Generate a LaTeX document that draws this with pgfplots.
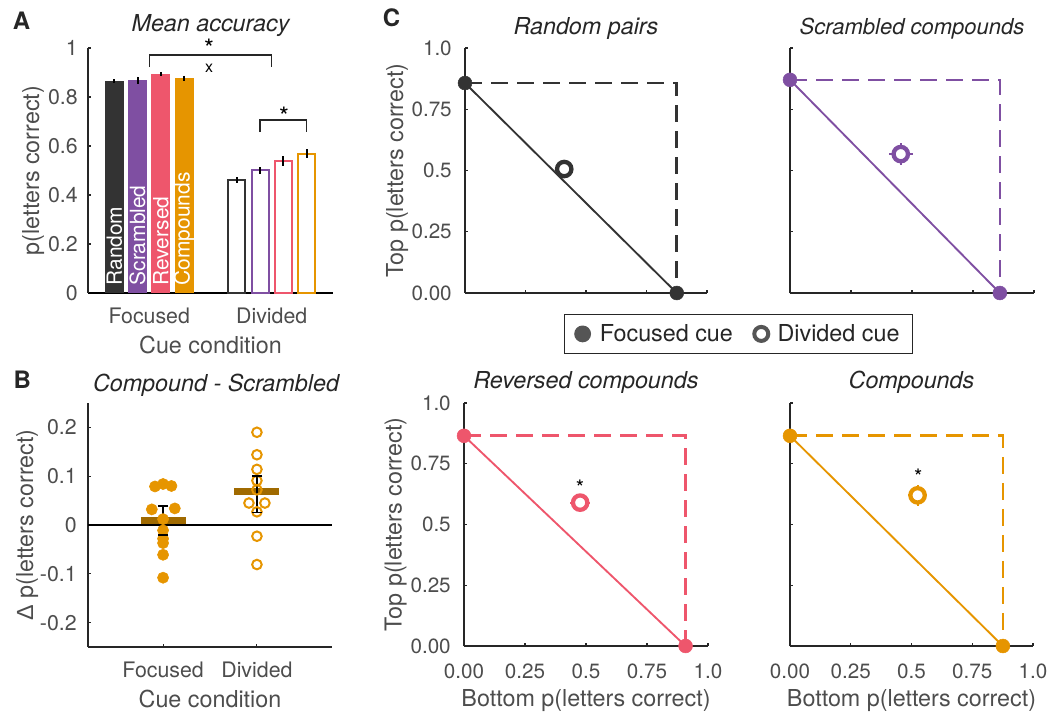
\documentclass[border=0pt]{standalone}
\usepackage{fontspec}
\setmainfont{TeX Gyre Heros}
\newfontfamily\lsans{Liberation Sans}
\usepackage{pgfplots}
\pgfplotsset{compat=1.18}

\definecolor{cdark}{HTML}{333333}
\definecolor{cpurp}{HTML}{7F4FA2}
\definecolor{cpink}{HTML}{EE566C}
\definecolor{corng}{HTML}{E69500}
\definecolor{cmean}{HTML}{A06A00}
\definecolor{caxis}{HTML}{262626}
\definecolor{ctick}{HTML}{4D4D4D}
\definecolor{cleg}{HTML}{555555}

\newcommand{\tickA}{\fontsize{16}{19}\selectfont}
\newcommand{\tickC}{\fontsize{15.5}{18}\selectfont}
\newcommand{\labf}{\fontsize{17.5}{21}\selectfont}
\newcommand{\titf}{\fontsize{17.5}{21}\selectfont\itshape}
\newcommand{\barf}{\fontsize{15.7}{18}\selectfont}
\newcommand{\starA}{\fontsize{19}{22}\selectfont}
\newcommand{\starC}{\fontsize{16}{19}\selectfont}
\newcommand{\letf}{\fontsize{18}{21}\selectfont\bfseries}

\pgfplotsset{
  mat/.style={
    anchor=south west, scale only axis, clip=false,
    axis lines*=left,
    axis line style={line width=1pt, caxis},
    tick style={line width=0.8pt, caxis},
    tick align=inside, major tick length=2.5pt,
    /pgf/number format/assume math mode=true,
    tick label style={color=ctick},
    xticklabel style={anchor=base},
    yticklabel style={anchor=east, inner sep=0pt},
    label style={font=\labf, color=ctick},
    xlabel style={at={(axis description cs:0.5,0)}, anchor=base, yshift=-45.5pt},
    title style={font=\titf, color=caxis, at={(0.5,1)}, anchor=base},
  },
  cpan/.style={
    mat, xmin=0, xmax=1, ymin=0, ymax=1,
    xtick={0,0.25,0.5,0.75,1}, ytick={0,0.25,0.5,0.75,1},
    xticklabels={0.00,0.25,0.5,0.75,1.0},
    yticklabels={0.00,0.25,0.5,0.75,1.0},
    tick label style={font=\tickC},
    xticklabel style={yshift=-24pt},
    yticklabel style={xshift=-9.75pt},
    ylabel style={at={(axis description cs:-0.256,0.5)}, anchor=base},
  },
  dashln/.style={line width=2pt, dash pattern=on 12.5pt off 7pt},
  diag/.style={line width=1.4pt},
  foc/.style={only marks, mark=*, mark size=5.2pt},
  divm/.style={only marks, mark=*, mark size=5.4pt, mark options={fill=white, line width=3.2pt}},
  derr/.style={draw=none, mark=none, error bars/x dir=both, error bars/x explicit,
    error bars/y dir=both, error bars/y explicit,
    error bars/error mark=none, error bars/error bar style={draw=#1, line width=1.6pt}},
  fbar/.style={ybar, bar width=0.155, bar shift=0pt, draw=none,
    error bars/y dir=both, error bars/y explicit, error bars/error mark=none,
    error bars/error bar style={draw=black, line width=1.5pt}},
  dbar/.style={ybar, bar width=0.14, bar shift=0pt, fill=white, line width=1.5pt,
    error bars/y dir=both, error bars/y explicit, error bars/error mark=none,
    error bars/error bar style={draw=black, line width=1.5pt}},
}

\begin{document}
\begin{tikzpicture}
\useasboundingbox (0,0) rectangle (789pt,536.25pt);

% panel letters
\node[font=\letf, anchor=base west, inner sep=0pt, caxis] at (9.5pt,513.75pt) {A};
\node[font=\letf, anchor=base west, inner sep=0pt, caxis] at (10pt,245.25pt) {B};
\node[font=\letf, anchor=base west, inner sep=0pt, caxis] at (287pt,516.2pt) {C};

% ---------- A: mean accuracy
\begin{axis}[mat, at={(66pt,316.5pt)}, width=183.75pt, height=183.75pt,
  xmin=0.5, xmax=2.5, ymin=0, ymax=1,
  xtick={1,2}, xticklabels={Focused,Divided},
  ytick={0,0.2,0.4,0.6,0.8,1},
  x axis line style={line width=2.2pt, black},
  xtick style={draw=none},
  tick label style={font=\tickA},
  xticklabel style={yshift=-22.9pt},
  yticklabel style={xshift=-7.5pt},
  xlabel={Cue condition}, ylabel={p(letters correct)},
  ylabel style={at={(axis description cs:-0.2,0.5)}, anchor=base},
  title={Mean accuracy}, title style={yshift=6.2pt},
]
\addplot[fbar, fill=cdark] coordinates {(0.715,0.865) +- (0,0.008)};
\addplot[fbar, fill=cpurp] coordinates {(0.905,0.868) +- (0,0.015)};
\addplot[fbar, fill=cpink] coordinates {(1.095,0.893) +- (0,0.007)};
\addplot[fbar, fill=corng] coordinates {(1.285,0.877) +- (0,0.010)};
\addplot[dbar, draw=cdark] coordinates {(1.715,0.463) +- (0,0.012)};
\addplot[dbar, draw=cpurp] coordinates {(1.905,0.500) +- (0,0.016)};
\addplot[dbar, draw=cpink] coordinates {(2.095,0.540) +- (0,0.020)};
\addplot[dbar, draw=corng] coordinates {(2.285,0.569) +- (0,0.020)};

\node[rotate=90, anchor=west, inner sep=0pt, white, font=\barf] at (axis cs:0.715,0.03) {Random};
\node[rotate=90, anchor=west, inner sep=0pt, white, font=\barf] at (axis cs:0.905,0.03) {Scrambled};
\node[rotate=90, anchor=west, inner sep=0pt, white, font=\barf] at (axis cs:1.095,0.03) {Reversed};
\node[rotate=90, anchor=west, inner sep=0pt, white, font=\barf] at (axis cs:1.285,0.03) {Compounds};

\draw[line width=1pt, caxis] (axis cs:1,0.922) -- (axis cs:1,0.971) -- (axis cs:2,0.971) -- (axis cs:2,0.922);
\node[anchor=base, inner sep=0pt, font=\starA, black] at (axis cs:1.488,0.960) {*};
\node[anchor=base, inner sep=0pt, font=\fontsize{12}{14}\selectfont, black] at (axis cs:1.488,0.900) {x};
\draw[line width=1pt, caxis] (axis cs:1.905,0.657) -- (axis cs:1.905,0.706) -- (axis cs:2.285,0.706) -- (axis cs:2.285,0.657);
\node[anchor=base, inner sep=0pt, font=\starA, black] at (axis cs:2.10,0.682) {*};
\end{axis}

% ---------- B: compound - scrambled
\begin{axis}[mat, at={(66pt,51pt)}, width=183pt, height=183pt,
  xmin=0.2, xmax=2.8, ymin=-0.25, ymax=0.25,
  xtick={1,2}, xticklabels={Focused,Divided},
  ytick={-0.2,-0.1,0,0.1,0.2},
  tick label style={font=\tickA},
  xticklabel style={yshift=-22.5pt},
  yticklabel style={xshift=-8.25pt},
  xlabel={Cue condition}, ylabel={{\lsans Δ} p(letters correct)},
  ylabel style={at={(axis description cs:-0.225,0.5)}, anchor=base},
  title={Compound - Scrambled}, title style={yshift=2.5pt, xshift=4.5pt},
]
\addplot[black, line width=1.2pt] coordinates {(0.2,0) (2.8,0)};
\addplot[only marks, mark=*, mark size=4.2pt, corng] coordinates {
  (0.914,0.079) (1.0,0.084) (1.089,0.080) (0.88,0.032) (1.125,0.034)
  (1.0,0.012) (1.0,-0.011) (1.0,-0.028) (1.0,-0.037) (1.0,-0.061) (1.0,-0.108)};
\addplot[only marks, mark=o, mark size=3.6pt, line width=1.5pt, corng] coordinates {
  (2,0.19) (2,0.144) (2,0.114) (2,0.091) (2,0.072) (1.915,0.045) (2.085,0.045)
  (2,0.027) (2,-0.023) (2,-0.081)};
\addplot[cmean, line width=5.5pt] coordinates {(0.763,0.009) (1.241,0.009)};
\addplot[cmean, line width=5.5pt] coordinates {(1.755,0.068) (2.234,0.068)};
% standard error of the mean differences
\addplot[black, line width=1.2pt, mark=-, mark size=4pt] coordinates {(1,-0.021) (1,0.039)};
\addplot[black, line width=1.2pt, mark=-, mark size=4pt] coordinates {(2,0.026) (2,0.101)};
\end{axis}

% ---------- C: top left, random pairs
\begin{axis}[cpan, at={(348.75pt,316.5pt)}, width=181.5pt, height=183.75pt,
  xticklabels={}, ylabel={Top p(letters correct)},
  title={Random pairs}, title style={yshift=3.75pt},
  legend columns=2,
  legend image code/.code={\draw[#1] plot coordinates {(0pt,0pt)};},
  legend style={at={(1.130,-0.167)}, anchor=center, draw=caxis, line width=0.8pt,
    font=\labf, text=caxis, inner xsep=8pt, inner ysep=5.5pt,
    /tikz/column 1/.style={column sep=5pt},
    /tikz/column 2/.style={column sep=14pt},
    /tikz/column 3/.style={column sep=5pt}},
]
\addlegendimage{foc, cleg, mark size=5.9pt}
\addlegendimage{divm, cleg, mark size=5.25pt, mark options={fill=white, line width=3pt}}
\legend{Focused cue, Divided cue}
\addplot[cdark, dashln] coordinates {(0,0.857) (0.875,0.857) (0.875,0)};
\addplot[cdark, diag] coordinates {(0,0.857) (0.875,0)};
\addplot[cdark, foc] coordinates {(0,0.857) (0.875,0)};
\addplot[derr=cdark] coordinates {(0.41,0.506) +- (0.025,0.025)};
\addplot[cdark, divm] coordinates {(0.41,0.506)};
\end{axis}

% ---------- C: top right, scrambled compounds
\begin{axis}[cpan, at={(592.5pt,316.5pt)}, width=183pt, height=183.75pt,
  xticklabels={}, yticklabels={},
  title={Scrambled compounds}, title style={yshift=3.75pt, font=\fontsize{16.5}{20}\selectfont\itshape},
]
\addplot[cpurp, dashln] coordinates {(0,0.87) (0.86,0.87) (0.86,0)};
\addplot[cpurp, diag] coordinates {(0,0.87) (0.86,0)};
\addplot[cpurp, foc] coordinates {(0,0.87) (0.86,0)};
\addplot[derr=cpurp] coordinates {(0.454,0.567) +- (0.048,0.045)};
\addplot[cpurp, divm] coordinates {(0.454,0.567)};
\end{axis}

% ---------- C: bottom left, reversed compounds
\begin{axis}[cpan, at={(348pt,51.75pt)}, width=183pt, height=182.25pt,
  xlabel={Bottom p(letters correct)}, ylabel={Top p(letters correct)},
  title={Reversed compounds}, title style={yshift=5pt},
]
\addplot[cpink, dashln] coordinates {(0,0.865) (0.908,0.865) (0.908,0)};
\addplot[cpink, diag] coordinates {(0,0.865) (0.908,0)};
\addplot[cpink, foc] coordinates {(0,0.865) (0.908,0)};
\addplot[derr=cpink] coordinates {(0.476,0.59) +- (0.04,0.03)};
\addplot[cpink, divm] coordinates {(0.476,0.59)};
\node[anchor=base, inner sep=0pt, font=\starC, black] at (axis cs:0.475,0.619) {*};
\end{axis}

% ---------- C: bottom right, compounds
\begin{axis}[cpan, at={(592.5pt,51.75pt)}, width=182.25pt, height=182.25pt,
  yticklabels={}, xlabel={Bottom p(letters correct)},
  title={Compounds}, title style={yshift=5pt},
]
\addplot[corng, dashln] coordinates {(0,0.865) (0.876,0.865) (0.876,0)};
\addplot[corng, diag] coordinates {(0,0.865) (0.876,0)};
\addplot[corng, foc] coordinates {(0,0.865) (0.876,0)};
\addplot[derr=corng] coordinates {(0.525,0.62) +- (0.04,0.044)};
\addplot[corng, divm] coordinates {(0.525,0.62)};
\node[anchor=base, inner sep=0pt, font=\starC, black] at (axis cs:0.528,0.665) {*};
\end{axis}
\end{tikzpicture}
\end{document}
